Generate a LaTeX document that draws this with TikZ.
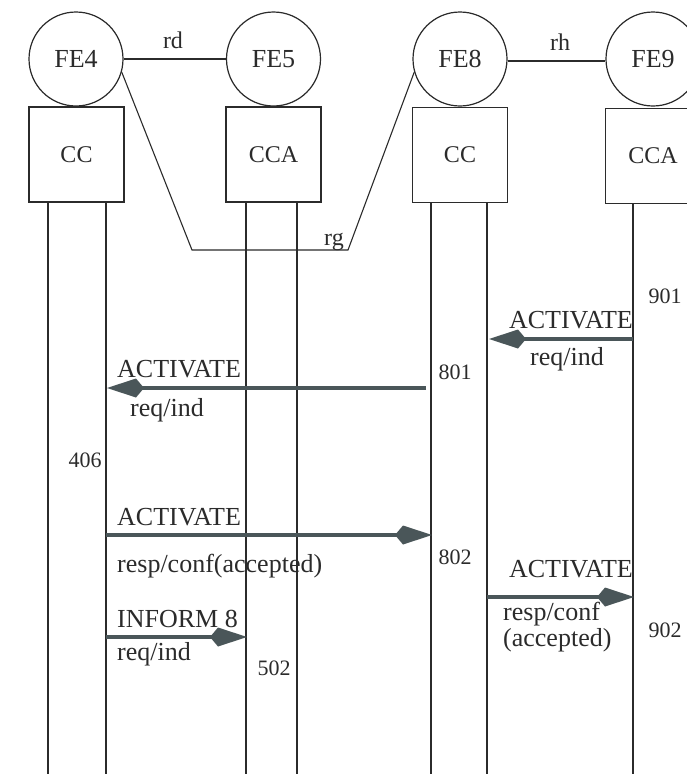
\documentclass[tikz,border=0pt]{standalone}
\usepackage{fontspec}
\setmainfont{Liberation Serif}
\usetikzlibrary{arrows.meta}
\definecolor{ink}{HTML}{2B2B2B}
\definecolor{msg}{HTML}{4A5659}
\begin{document}
\begin{tikzpicture}[x=1pt,y=-1pt,
  fe/.style={circle,draw=ink,line width=1.2pt,minimum size=94pt,inner sep=0pt,text=ink,font=\fontsize{26}{28}\selectfont},
  fbox/.style={rectangle,draw=ink,line width=1.2pt,minimum width=95pt,minimum height=95pt,inner sep=0pt,text=ink,font=\fontsize{24}{28}\selectfont},
  life/.style={draw=ink,line width=1.1pt},
  rel/.style={draw=ink,line width=1.1pt},
  msgarrow/.style={draw=msg,line width=4pt,-{Kite[length=37pt,width=19pt,inset=8pt]}},
  rlbl/.style={font=\fontsize{24}{28}\selectfont,inner sep=0pt,text=ink},
  lbl/.style={font=\fontsize{26}{28}\selectfont,inner sep=0pt,text=ink},
  num/.style={font=\fontsize{22}{26}\selectfont,inner sep=0pt,text=ink},
]
\clip (0,0) rectangle (687,774);
\fill[white] (0,0) rectangle (687,774);

% functional entities
\node[fe] (FE4) at (76,59) {FE4};
\node[fe] (FE5) at (273.5,59) {FE5};
\node[fe] (FE8) at (460,59) {FE8};
\node[fe] (FE9) at (653,59) {FE9};

\node[fbox] (B4) at (76.5,154.5) {CC};
\node[fbox] (B5) at (273.5,154.5) {CCA};
\node[fbox] (B8) at (460,155) {CC};
\node[fbox] (B9) at (653,156) {CCA};

% relationships
\draw[rel] (FE4.east) -- (FE5.west);
\node[rlbl] (rd) at (173,48) [anchor=base] {rd};
\draw[rel] (FE8.east |- 0,61) -- (FE9.west |- 0,61);
\node[rlbl] (rh) at (560,50) [anchor=base] {rh};
\coordinate (rg1) at (192,250);
\coordinate (rg2) at (348,250);
\draw[rel] (FE4.-16) -- (rg1) -- (rg2) -- (FE8.196);
\node[rlbl] (rg) at (334,245) [anchor=base] {rg};

% lifelines
\foreach \nm/\x/\y in {a/48/202,b/106/202,c/246/202,d/297/202,e/431/203,f/487/203,g/633/204}{
  \coordinate (top\nm) at (\x,\y);
  \coordinate (bot\nm) at (\x,774);
  \draw[life] (top\nm) -- (bot\nm);
}

% messages
\coordinate (m1s) at (633,339); \coordinate (m1e) at (489,339);
\draw[msgarrow] (m1s) -- (m1e);
\node[lbl,anchor=base east] (t1a) at (633,328) {ACTIVATE};
\node[lbl,anchor=base] (t1b) at (567,365) {req/ind};
\node[num,anchor=base] (n901) at (665,303) {901};

\coordinate (m2s) at (426,388); \coordinate (m2e) at (107,388);
\draw[msgarrow] (m2s) -- (m2e);
\node[lbl,anchor=base west] (t2a) at (117,377) {ACTIVATE};
\node[lbl,anchor=base west] (t2b) at (130,416) {req/ind};
\node[num,anchor=base] (n801) at (455,379) {801};
\node[num,anchor=base] (n406) at (85,467) {406};

\coordinate (m3s) at (106,535); \coordinate (m3e) at (432,535);
\draw[msgarrow] (m3s) -- (m3e);
\node[lbl,anchor=base west] (t3a) at (117,525) {ACTIVATE};
\node[lbl,anchor=base west] (t3b) at (117,572) {resp/conf(accepted)};
\node[num,anchor=base] (n802) at (455,564) {802};

\coordinate (m4s) at (106,637); \coordinate (m4e) at (247,637);
\draw[msgarrow] (m4s) -- (m4e);
\node[lbl,anchor=base west] (t4a) at (117,627) {INFORM 8};
\node[lbl,anchor=base west] (t4b) at (117,660) {req/ind};
\node[num,anchor=base] (n502) at (274,675) {502};

\coordinate (m5s) at (487,597); \coordinate (m5e) at (634,597);
\draw[msgarrow] (m5s) -- (m5e);
\node[lbl,anchor=base east] (t5a) at (633,577) {ACTIVATE};
\node[lbl,anchor=base west] (t5b) at (503,620) {resp/conf};
\node[lbl,anchor=base west] (t5c) at (503,646) {(accepted)};
\node[num,anchor=base] (n902) at (665,637) {902};
\end{tikzpicture}
\end{document}
